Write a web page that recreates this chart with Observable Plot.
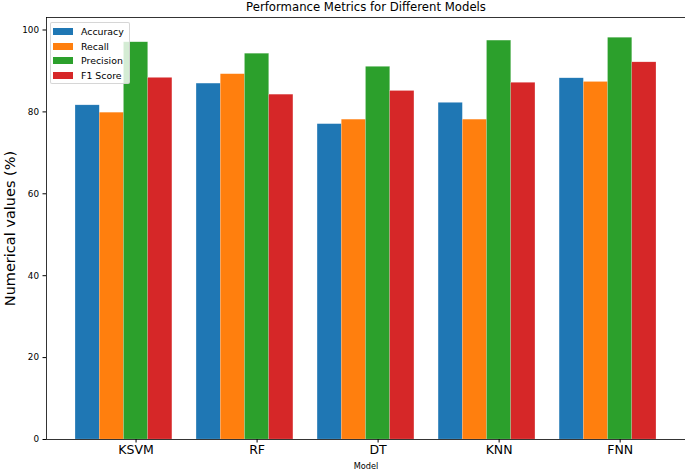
<!DOCTYPE html>
<html>
<head>
<meta charset="utf-8">
<script src="https://cdn.jsdelivr.net/npm/d3@7"></script>
<script src="https://cdn.jsdelivr.net/npm/@observablehq/plot@0.6"></script>
<style>
  html, body { margin: 0; padding: 0; background: #fff; }
  #wrap { position: relative; width: 685px; height: 472px; font-family: "DejaVu Sans", sans-serif; }
  #legend {
    position: absolute; left: 50px; top: 22px; width: 80px; height: 62px;
    background: rgba(255,255,255,0.8); border: 1px solid rgba(204,204,204,0.8);
    border-radius: 2px; box-sizing: border-box;
  }
  .row { position: absolute; left: 2px; height: 14px; display: flex; align-items: center; }
  .sw { width: 20px; height: 7px; margin-right: 8px; }
  .lab { font-size: 9.4px; color: #000; white-space: nowrap; }
</style>
</head>
<body>
<div id="wrap"></div>
<script>
const models = ["KSVM", "RF", "DT", "KNN", "FNN"];
const metrics = ["Accuracy", "Recall", "Precision", "F1 Score"];
const accuracy = [81.6, 86.9, 77.0, 82.2, 88.2];
const recall = [79.8, 89.2, 78.1, 78.1, 87.3];
const precision = [97.0, 94.2, 91.0, 97.4, 98.1];
const f1Score = [88.3, 84.2, 85.1, 87.1, 92.1];
const colors = ["#1f77b4", "#ff7f0e", "#2ca02c", "#d62728"];
const yTicks = [0, 20, 40, 60, 80, 100];
const title = "Performance Metrics for Different Models";
const yLabel = "Numerical values (%)";
const xLabel = "Model";

const series = [accuracy, recall, precision, f1Score];
const rows = [];
models.forEach((m, i) => {
  metrics.forEach((k, j) => {
    rows.push({model: m, mi: i, metric: k, kj: j, value: series[j][i]});
  });
});

const barW = 0.2;
const xDomain = [-0.74, 4.54];
const yDomain = [0, 103.05];

const chart = Plot.plot({
  width: 685,
  height: 472,
  marginLeft: 46,
  marginRight: 0,
  marginTop: 17,
  marginBottom: 33,
  style: {fontFamily: "DejaVu Sans", background: "white", color: "black"},
  x: {type: "linear", domain: xDomain},
  y: {domain: yDomain},
  color: {domain: metrics, range: colors},
  marks: [
    Plot.rectY(rows, {
      x1: d => d.mi + (d.kj - 2) * barW - barW / 2,
      x2: d => d.mi + (d.kj - 2) * barW + barW / 2,
      y1: 0,
      y2: "value",
      fill: "metric",
      stroke: "white",
      strokeWidth: 0.5,
      strokeOpacity: 0.3
    }),
    Plot.ruleY([yDomain[0]], {stroke: "black", strokeWidth: 0.8}),
    Plot.ruleY([yDomain[1]], {stroke: "black", strokeWidth: 0.8}),
    Plot.ruleX([xDomain[0]], {stroke: "black", strokeWidth: 0.8}),
    Plot.axisX({
      ticks: models.map((m, i) => i),
      tickFormat: i => models[i],
      tickSize: 3.5,
      tickPadding: 2,
      fontSize: 12.5,
      label: null
    }),
    Plot.axisY({
      ticks: yTicks,
      tickSize: 3.5,
      tickPadding: 4,
      fontSize: 8.8,
      label: null
    }),
    Plot.text([title], {frameAnchor: "top", lineAnchor: "middle", dy: -10, fontSize: 11.7}),
    Plot.text([xLabel], {frameAnchor: "bottom", lineAnchor: "middle", dy: 27, fontSize: 8.2}),
    Plot.text([yLabel], {frameAnchor: "left", rotate: -90, dx: -36.5, fontSize: 14.5, textAnchor: "middle", lineAnchor: "middle"})
  ]
});

const wrap = document.getElementById("wrap");
wrap.appendChild(chart);

const legend = document.createElement("div");
legend.id = "legend";
metrics.forEach((k, j) => {
  const r = document.createElement("div");
  r.className = "row";
  r.style.top = (1.5 + j * 14.7) + "px";
  const sw = document.createElement("div");
  sw.className = "sw";
  sw.style.background = colors[j];
  const lab = document.createElement("span");
  lab.className = "lab";
  lab.textContent = k;
  r.appendChild(sw);
  r.appendChild(lab);
  legend.appendChild(r);
});
wrap.appendChild(legend);
</script>
</body>
</html>
